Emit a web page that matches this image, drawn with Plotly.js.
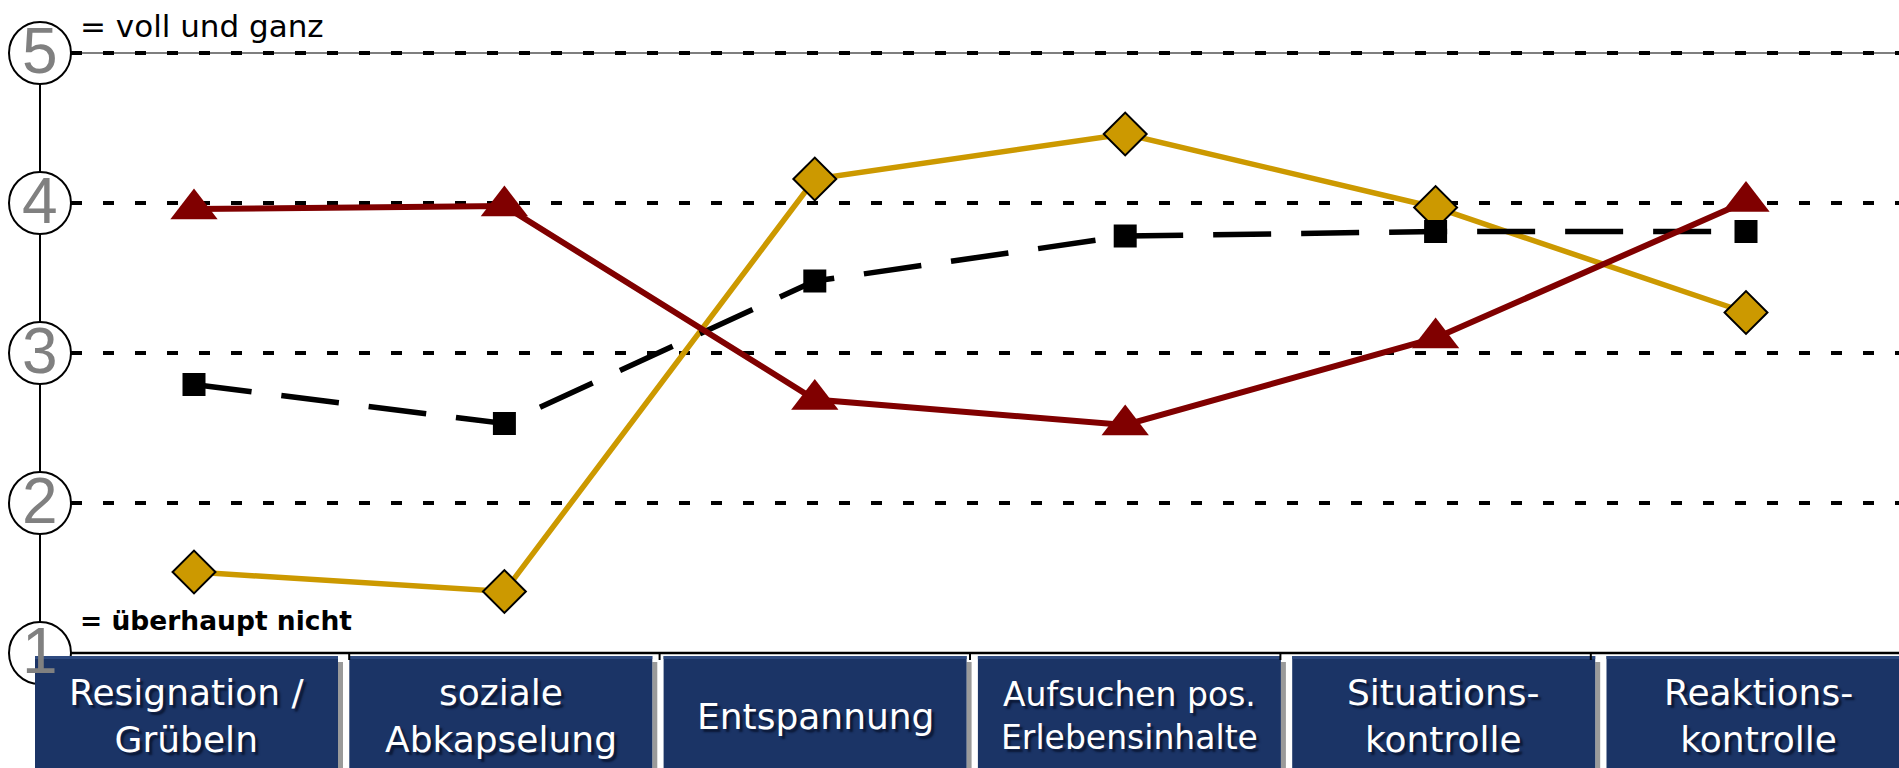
<!DOCTYPE html>
<html>
<head>
<meta charset="utf-8">
<script src="https://cdn.plot.ly/plotly-3.0.1.min.js"></script>
<style>
  html, body { margin: 0; padding: 0; background: #ffffff; }
  #chart { width: 1899px; height: 768px; }
</style>
</head>
<body>
<div id="chart"></div>
<script>
// Coping-profile chart: three profiles over six coping strategies, rated 1..5.
const categories = [
  "Resignation /<br>Grübeln",
  "soziale<br>Abkapselung",
  "Entspannung",
  "Aufsuchen pos.<br>Erlebensinhalte",
  "Situations-<br>kontrolle",
  "Reaktions-<br>kontrolle"
];
const redValues   = [3.96, 3.98, 2.69, 2.52, 3.10, 4.01];
const goldValues  = [1.54, 1.41, 4.16, 4.46, 3.97, 3.27];
const blackValues = [2.79, 2.53, 3.48, 3.78, 3.81, 3.81];
const scaleLevels = [1, 2, 3, 4, 5];
const topLabel = "= voll und ganz";
const bottomLabel = "= überhaupt nicht";

// ---- geometry of the page ----
const W = 1899, H = 768;
const firstCatPx = 194, catPitchPx = 310.4;      // x pixel of first category, spacing
const y1Px = 653, unitPx = 150;                   // pixel of rating 1, pixels per rating step
const xRange = [-firstCatPx / catPitchPx, (W - firstCatPx) / catPitchPx];
const yRange = [1 - (H - y1Px) / unitPx, 1 + y1Px / unitPx];
const px = v => v / W;                 // horizontal pixel -> paper
const py = v => 1 - v / H;             // vertical pixel -> paper

const axisPx = 40;                     // vertical scale axis
const gridStartPx = 71;
const boxLeftPx = 35, boxPitchPx = 314.3, boxWidthPx = 303, boxTopPx = 656;

const idx = categories.map((_, i) => i);

const traces = [
  {
    x: idx, y: goldValues, type: 'scatter', mode: 'lines+markers',
    line: { color: '#cc9900', width: 5.5 },
    marker: { symbol: 'diamond', size: 33, color: '#cc9900', line: { color: '#000000', width: 2 } },
    hoverinfo: 'skip'
  },
  {
    x: idx, y: blackValues, type: 'scatter', mode: 'lines+markers',
    line: { color: '#000000', width: 5.5, dash: '58px,30px' },
    marker: { symbol: 'square', size: 23, color: '#000000' },
    hoverinfo: 'skip'
  },
  {
    x: idx, y: redValues, type: 'scatter', mode: 'lines+markers',
    line: { color: '#800000', width: 6 },
    marker: { symbol: 'triangle-up', size: 41, color: '#800000' },
    hoverinfo: 'skip'
  }
];

const shapes = [];
const annotations = [];

// dotted grid at every rating above 1; the top level also has a thin solid rule
shapes.push({
  type: 'line', layer: 'below', xref: 'paper', yref: 'y',
  x0: px(gridStartPx), x1: 1, y0: 5, y1: 5,
  line: { color: '#555555', width: 1.5 }
});
scaleLevels.filter(v => v > 1).forEach(v => {
  shapes.push({
    type: 'line', layer: 'below', xref: 'paper', yref: 'y',
    x0: px(gridStartPx), x1: 1, y0: v, y1: v,
    line: { color: '#000000', width: 4, dash: '11px,21px' }
  });
});

// vertical scale axis and baseline
shapes.push({
  type: 'line', layer: 'below', xref: 'paper', yref: 'y',
  x0: px(axisPx), x1: px(axisPx), y0: 1, y1: 5,
  line: { color: '#000000', width: 2 }
});
shapes.push({
  type: 'line', layer: 'above', xref: 'paper', yref: 'y',
  x0: px(axisPx), x1: 1, y0: 1, y1: 1,
  line: { color: '#000000', width: 2.5 }
});

// circled scale numbers
scaleLevels.forEach(v => {
  shapes.push({
    type: 'circle', layer: 'above',
    xref: 'paper', xsizemode: 'pixel', xanchor: px(axisPx), x0: -31, x1: 31,
    yref: 'y', ysizemode: 'pixel', yanchor: v, y0: -31, y1: 31,
    fillcolor: '#ffffff', line: { color: '#000000', width: 2 }
  });
  annotations.push({
    xref: 'paper', yref: 'y', x: px(axisPx), y: v, yshift: 2,
    text: String(v), showarrow: false, xanchor: 'center', yanchor: 'middle',
    font: { family: 'Liberation Sans Narrow, Arial Narrow, sans-serif', size: 64, color: '#808080' }
  });
});

// category boxes
categories.forEach((label, i) => {
  const l = boxLeftPx + i * boxPitchPx;
  const r = l + boxWidthPx;
  shapes.push({
    type: 'rect', layer: 'above', xref: 'paper', yref: 'paper',
    x0: px(r), x1: px(r + 5), y0: py(H + 5), y1: py(boxTopPx + 6),
    fillcolor: '#9a9a9a', line: { width: 0 }
  });
  shapes.push({
    type: 'rect', layer: 'above', xref: 'paper', yref: 'paper',
    x0: px(l), x1: px(r), y0: py(H + 5), y1: py(boxTopPx),
    fillcolor: '#1b3466', line: { width: 0 }
  });
  shapes.push({
    type: 'rect', layer: 'above', xref: 'paper', yref: 'paper',
    x0: px(l), x1: px(r), y0: py(boxTopPx + 3), y1: py(boxTopPx),
    fillcolor: '#2e4a80', line: { width: 0 }
  });
  const small = label.indexOf('Erlebens') >= 0;
  annotations.push({
    xref: 'paper', yref: 'paper', x: px((l + r) / 2), y: py(716),
    text: label, showarrow: false, xanchor: 'center', yanchor: 'middle', align: 'center',
    font: {
      family: 'DejaVu Sans, sans-serif',
      size: small ? 33 : 36, color: '#ffffff',
      shadow: '3px 3px 2px #0b1836'
    }
  });
});

// category boundary ticks on the baseline
idx.slice(1).forEach(i => {
  shapes.push({
    type: 'line', layer: 'above', xref: 'x', yref: 'paper',
    x0: i - 0.5, x1: i - 0.5, y0: py(y1Px), y1: py(y1Px + 7),
    line: { color: '#000000', width: 2 }
  });
});

// scale anchors
annotations.push({
  xref: 'paper', yref: 'paper', x: px(78), y: py(26),
  text: topLabel, showarrow: false, xanchor: 'left', yanchor: 'middle',
  font: { family: 'DejaVu Sans, sans-serif', size: 31, color: '#000000' }
});
annotations.push({
  xref: 'paper', yref: 'paper', x: px(78), y: py(620),
  text: '<b>' + bottomLabel + '</b>', showarrow: false, xanchor: 'left', yanchor: 'middle',
  font: { family: 'DejaVu Sans, sans-serif', size: 26.5, color: '#000000' }
});

const layout = {
  width: W, height: H,
  margin: { l: 0, r: 0, t: 0, b: 0, pad: 0 },
  paper_bgcolor: '#ffffff', plot_bgcolor: '#ffffff',
  showlegend: false,
  xaxis: { range: xRange, showgrid: false, zeroline: false, showline: false,
           showticklabels: false, ticks: '', fixedrange: true },
  yaxis: { range: yRange, showgrid: false, zeroline: false, showline: false,
           showticklabels: false, ticks: '', fixedrange: true },
  shapes: shapes,
  annotations: annotations
};

Plotly.newPlot('chart', traces, layout, { staticPlot: true, displayModeBar: false });
</script>
</body>
</html>
